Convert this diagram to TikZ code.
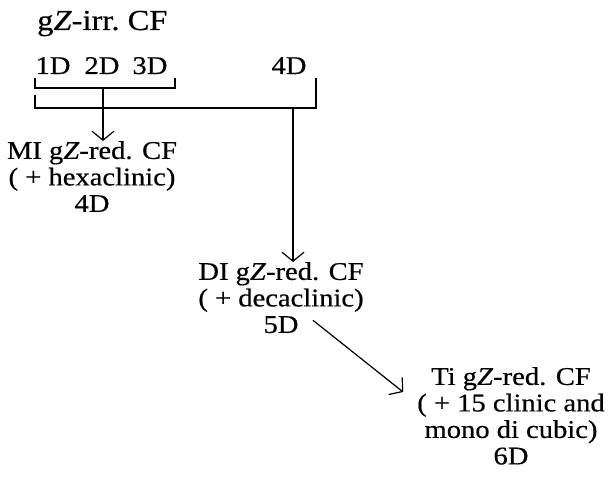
\documentclass[tikz,border=0pt]{standalone}
\usepackage{fontspec}
\setmainfont[FakeStretch=1.12,FakeBold=0.5]{Liberation Serif}
\usetikzlibrary{arrows.meta}
\begin{document}
\begin{tikzpicture}[x=1pt,y=-1pt,
  lbl/.style={inner sep=0pt, font=\fontsize{25.5}{26.5}\selectfont, align=center},
  head/.style={lbl, font=\fontsize{29}{30}\selectfont},
  link/.style={line width=1.2pt},
  arr/.style={link, -{Straight Barb[length=9pt,width=22pt,line width=1.2pt]}}]
\useasboundingbox (0,0) rectangle (608,486);

% heading and the dimensions of the irreducible frames
\node[head, anchor=base west] (title) at (37,30) {g\textit{Z}-irr.\ CF};
\node[lbl, anchor=base] (d1) at (53,74) {1D};
\node[lbl, anchor=base] (d2) at (102,74) {2D};
\node[lbl, anchor=base] (d3) at (150,74) {3D};
\node[lbl, anchor=base] (d4) at (289,74) {4D};

% reducible frames
\node[lbl, anchor=north] (mi) at (92,141) {MI g\textit{Z}-red. CF\\( + hexaclinic)\\4D};
\node[lbl, anchor=north] (di) at (281,262) {DI g\textit{Z}-red. CF\\( + decaclinic)\\5D};
\node[lbl, anchor=north] (ti) at (511,367) {Ti g\textit{Z}-red. CF\\( + 15 clinic and\\mono di cubic)\\6D};

% brackets grouping the dimensions
\coordinate (inL) at (35,78);
\coordinate (inR) at (175,78);
\coordinate (inM) at (103,88);
\coordinate (outL) at (35,95);
\coordinate (outR) at (316,78);
\coordinate (outM) at (293,108);
\draw[link] (inL) |- (inM) -| (inR);
\draw[link] (outL) |- (outM) -| (outR);

% arrows
\draw[arr] (inM) -- (inM |- mi.north);
\draw[arr] (outM) -- (outM |- di.north);
\draw[arr] ([xshift=32pt,yshift=13pt]di.south) -- ([xshift=-14pt,yshift=-25pt]ti.north west);
\end{tikzpicture}
\end{document}
